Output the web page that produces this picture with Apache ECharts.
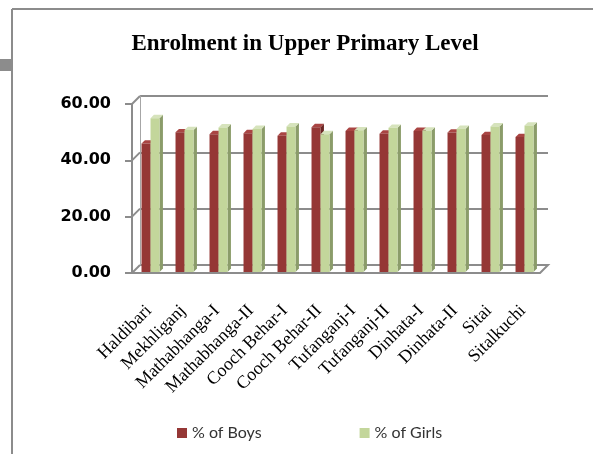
<!DOCTYPE html>
<html>
<head>
<meta charset="utf-8">
<script src="https://cdn.jsdelivr.net/npm/echarts@6/dist/echarts.min.js"></script>
<style>
  html, body { margin: 0; padding: 0; background: #fff; }
  #chart { width: 593px; height: 454px; }
</style>
</head>
<body>
<div id="chart"></div>
<script>
var blocks = ['Haldibari', 'Mekhliganj', 'Mathabhanga-I', 'Mathabhanga-II', 'Cooch Behar-I', 'Cooch Behar-II',
  'Tufanganj-I', 'Tufanganj-II', 'Dinhata-I', 'Dinhata-II', 'Sitai', 'Sitalkuchi'];
var boys = [45.6, 49.6, 48.9, 49.3, 48.4, 51.4, 50.1, 49.1, 50.1, 49.5, 48.6, 47.9];
var girls = [54.6, 50.4, 51.3, 50.8, 51.7, 48.9, 50.3, 51.2, 50.2, 50.8, 51.7, 52.0];
var yTicks = [0, 20, 40, 60];

var chart = echarts.init(document.getElementById('chart'));

// 3d-ish column: front face + side + top
function bar3d(offset, front, side, topC) {
  return function (params, api) {
    var i = api.value(0);
    var p = api.coord([i, api.value(1)]);
    var b = api.coord([i, 0]);
    var band = api.size([1, 0])[0];
    var w = band * 0.265, d = band * 0.1;
    var l = p[0] + band * offset, r = l + w, t = p[1] - 1, bt = b[1] - 1;
    return {
      type: 'group',
      children: [
        { type: 'polygon', shape: { points: [[r, t], [r + d, t - d], [r + d, bt - d], [r, bt]] }, style: { fill: side } },
        { type: 'polygon', shape: { points: [[l, t], [l + d, t - d], [r + d, t - d], [r, t]] }, style: { fill: topC } },
        { type: 'rect', shape: { x: l, y: t, width: w, height: bt - t }, style: { fill: front } }
      ]
    };
  };
}

chart.setOption({
  animation: false,
  title: {
    text: 'Enrolment in Upper Primary Level',
    left: 300, top: 28, textAlign: 'center',
    textStyle: { fontFamily: 'Liberation Serif', fontWeight: 'bold', fontSize: 23, color: '#000' }
  },
  legend: {
    left: 172, top: 420,
    itemWidth: 10, itemHeight: 10, itemGap: 98,
    icon: 'rect',
    textStyle: { fontFamily: 'Lato', fontSize: 16, color: '#333' },
    data: ['% of Boys', '% of Girls']
  },
  grid: [
    { left: 132, right: 53, top: 104, bottom: 181 },
    { left: 140, right: 45, top: 96, bottom: 189 }   // back wall
  ],
  xAxis: [
    {
      type: 'category', data: blocks, gridIndex: 0,
      axisLine: { lineStyle: { color: '#8c8c8c', width: 2 } },
      axisTick: { length: 7, lineStyle: { color: '#8c8c8c', width: 2 } },
      axisLabel: { rotate: 45, margin: 35, interval: 0, fontFamily: 'Liberation Serif', fontSize: 18, color: '#000' }
    },
    { type: 'category', data: blocks, gridIndex: 1, show: false }
  ],
  yAxis: [
    {
      type: 'value', gridIndex: 0, min: 0, max: 60, interval: 20,
      axisLine: { show: true, lineStyle: { color: '#8c8c8c', width: 2 } },
      axisTick: { show: true, length: 7, lineStyle: { color: '#8c8c8c', width: 2 } },
      splitLine: { show: false },
      axisLabel: {
        margin: 21, fontFamily: 'DejaVu Sans', fontWeight: 'bold', fontSize: 16, color: '#000',
        formatter: function (v) { return v.toFixed(2); }
      }
    },
    {
      type: 'value', gridIndex: 1, min: 0, max: 60, interval: 20,
      axisLine: { show: true, lineStyle: { color: '#a6a6a6', width: 1 } },
      axisTick: { show: false }, axisLabel: { show: false },
      splitLine: { lineStyle: { color: '#8c8c8c', width: 2 } }
    }
  ],
  series: [
    {
      name: '% of Boys', type: 'custom', xAxisIndex: 0, yAxisIndex: 0,
      itemStyle: { color: '#953735' },
      renderItem: bar3d(-0.22, '#953735', '#6a2624', '#a94543'),
      data: boys.map(function (v, i) { return [i, v]; })
    },
    {
      name: '% of Girls', type: 'custom', xAxisIndex: 0, yAxisIndex: 0,
      itemStyle: { color: '#c3d69b' },
      renderItem: bar3d(0.045, '#c3d69b', '#8b9c6a', '#d6e3bc'),
      data: girls.map(function (v, i) { return [i, v]; })
    }
  ]
});

// frame, floor and the little 3d connectors at each gridline
var g = [
  { type: 'line', shape: { x1: 12, y1: 9, x2: 593, y2: 9 }, style: { stroke: '#8c8c8c', lineWidth: 2 } },
  { type: 'line', shape: { x1: 12, y1: 9, x2: 12, y2: 454 }, style: { stroke: '#8c8c8c', lineWidth: 2 } },
  { type: 'rect', shape: { x: 0, y: 59, width: 11, height: 12 }, style: { fill: '#8c8c8c' } }
];
var x0 = 132, x1 = 540;
var y0 = chart.convertToPixel({ yAxisIndex: 0 }, 0);
g.push({ type: 'polyline', z: -1, shape: { points: [[x1, y0], [x1 + 8, y0 - 8], [x0 + 8, y0 - 8]] }, style: { stroke: '#8c8c8c', lineWidth: 2, fill: null } });
yTicks.forEach(function (t) {
  var y = chart.convertToPixel({ yAxisIndex: 0 }, t);
  g.push({ type: 'line', shape: { x1: x0, y1: y, x2: x0 + 8, y2: y - 8 }, style: { stroke: '#8c8c8c', lineWidth: 2 } });
});
chart.setOption({ graphic: g });
</script>
</body>
</html>
